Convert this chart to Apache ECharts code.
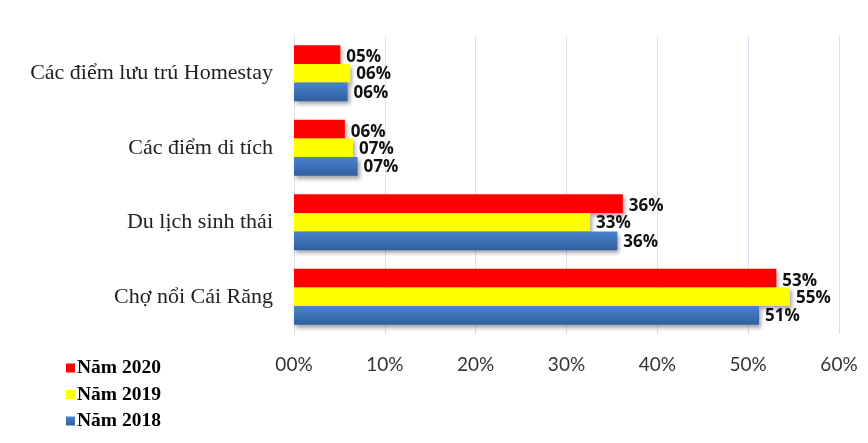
<!DOCTYPE html>
<html><head><meta charset="utf-8">
<script src="https://cdn.jsdelivr.net/npm/echarts@6/dist/echarts.min.js"></script>
<style>html,body{margin:0;padding:0;background:#fff}#c{width:868px;height:443px}</style>
</head><body><div id="c"></div>
<script>
const categories = ['Chợ nổi Cái Răng', 'Du lịch sinh thái', 'Các điểm di tích', 'Các điểm lưu trú Homestay'];
const seriesNames = ['Năm 2020', 'Năm 2019', 'Năm 2018'];
const v2020 = [53.1, 36.2, 5.6, 5.1];
const v2019 = [54.6, 32.6, 6.5, 6.2];
const v2018 = [51.2, 35.6, 7.0, 5.9];
const xTicks = [0, 10, 20, 30, 40, 50, 60];

const pad = v => { const r = Math.round(v); return (r < 10 ? '0' : '') + r + '%'; };
const shadow = { shadowColor: 'rgba(0,0,0,0.35)', shadowBlur: 4, shadowOffsetX: 2, shadowOffsetY: 3 };
const colors = [
  '#ff0000',
  '#ffff00',
  new echarts.graphic.LinearGradient(0, 0, 0, 1, [{offset:0,color:'#4a84cf'},{offset:1,color:'#2f5f9e'}])
];
const legendColors = ['#ff0000', '#ffff00', '#2f62a8'];
const labelOffsets = [[0, 3], [0, 1], [0, 1]];
const vals = [v2020, v2019, v2018];
const chart = echarts.init(document.getElementById('c'));
chart.setOption({
  animation: false,
  color: legendColors,
  grid: { left: 294, right: 29, top: 36, bottom: 109, containLabel: false },
  legend: {
    orient: 'vertical', left: 61, top: 353, itemGap: 6.5,
    itemWidth: 9, itemHeight: 9, icon: 'rect',
    data: seriesNames,
    textStyle: { fontFamily: 'Liberation Serif', fontWeight: 'bold', fontSize: 19.5, lineHeight: 20, color: '#000', padding: [0,0,0,-3] }
  },
  xAxis: {
    type: 'value', min: xTicks[0], max: xTicks[xTicks.length - 1], interval: 10,
    axisLine: { show: false }, axisTick: { show: false },
    splitLine: { show: true, lineStyle: { color: '#d6e0f0', width: 1 } },
    axisLabel: { margin: 21, fontFamily: 'Lato', fontSize: 19, color: '#333',
      formatter: v => (v < 10 ? '0' : '') + v + '%' }
  },
  yAxis: {
    type: 'category', data: categories,
    axisLine: { show: true, lineStyle: { color: '#d6e0f0' } }, axisTick: { show: false },
    axisLabel: { margin: 21, fontFamily: 'Liberation Serif', fontSize: 22, color: '#222' }
  },
  series: seriesNames.map((n, i) => ({
    name: n, type: 'bar', data: vals[i], barGap: '0%', barCategoryGap: '25%',
    itemStyle: Object.assign({ color: colors[i] }, shadow),
    label: { show: true, position: 'right', distance: 6, offset: labelOffsets[i], formatter: p => pad(p.value),
      fontFamily: 'Open Sans', fontWeight: 'bold', fontSize: 17, color: '#111' }
  }))
});
</script></body></html>
